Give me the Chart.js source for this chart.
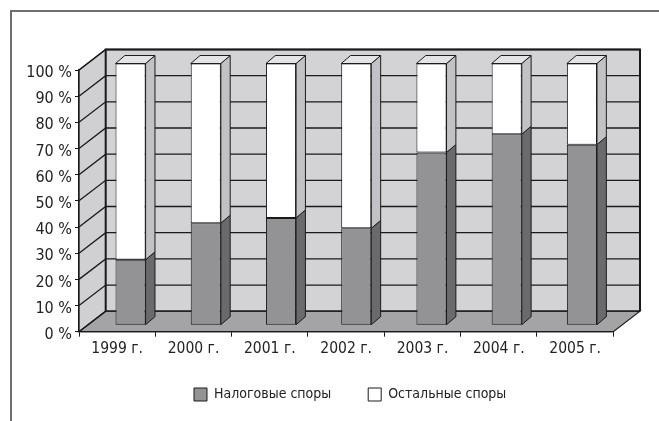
<!DOCTYPE html>
<html>
<head>
<meta charset="utf-8">
<script src="https://cdn.jsdelivr.net/npm/chart.js@4.4.1/dist/chart.umd.min.js"></script>
<style>
  html, body { margin: 0; padding: 0; background: #fff; }
  body { width: 659px; height: 421px; position: relative; overflow: hidden; }
  #frame { position: absolute; left: 10px; top: 10px; width: 700px; height: 500px;
           border-left: 2px solid #6e6e6e; border-top: 2px solid #6e6e6e; box-sizing: border-box; }
  #wrap { position: absolute; left: 0; top: 0; width: 659px; height: 421px; }
</style>
</head>
<body>
<div id="frame"></div>
<div id="wrap"><canvas id="c" width="659" height="421"></canvas></div>
<script>
const categories = ['1999 г.', '2000 г.', '2001 г.', '2002 г.', '2003 г.', '2004 г.', '2005 г.'];
const taxDisputes = [25, 39, 41, 37, 66, 73, 69];
const otherDisputes = [75, 61, 59, 63, 34, 27, 31];
const seriesNames = ['Налоговые споры', 'Остальные споры'];
const yTicks = [0, 10, 20, 30, 40, 50, 60, 70, 80, 90, 100];

const FONT = "'Liberation Sans Narrow', 'DejaVu Sans Condensed', 'Arial Narrow', sans-serif";
const DEPTH_X = 26.7, DEPTH_Y = -20.5;   // wall depth
const BAR_DX = 9.5, BAR_DY = -8;          // bar depth
const BAR_SHIFT_X = 10.1, BAR_SHIFT_Y = -6.5, BAR_SX = 0.9856;
const LEGEND_SHIFT_Y = -9.5, LEGEND_SHIFT_X = 4;

const walls = {
  id: 'walls',
  afterLayout(chart) {
    if (chart.legend) {
      chart.legend.top += LEGEND_SHIFT_Y;
      chart.legend.bottom += LEGEND_SHIFT_Y;
      chart.legend.left += LEGEND_SHIFT_X;
      chart.legend.right += LEGEND_SHIFT_X;
    }
  },
  beforeDraw(chart) {
    const ctx = chart.ctx, ya = chart.scales.y, xa = chart.scales.x;
    const L = xa.left, R = xa.right, T = ya.getPixelForValue(100), B = ya.getPixelForValue(0);
    ctx.save();
    ctx.lineJoin = 'miter';
    ctx.fillStyle = '#d3d3d5';
    ctx.fillRect(L + DEPTH_X, T + DEPTH_Y, R - L, B - T);
    ctx.beginPath();
    ctx.moveTo(L, T); ctx.lineTo(L + DEPTH_X, T + DEPTH_Y);
    ctx.lineTo(L + DEPTH_X, B + DEPTH_Y); ctx.lineTo(L, B); ctx.closePath();
    ctx.fillStyle = '#d0d0d2'; ctx.fill();
    ctx.beginPath();
    ctx.moveTo(L, B); ctx.lineTo(R, B); ctx.lineTo(R + DEPTH_X, B + DEPTH_Y);
    ctx.lineTo(L + DEPTH_X, B + DEPTH_Y); ctx.closePath();
    ctx.fillStyle = '#a4a4a6'; ctx.fill();
    ctx.strokeStyle = '#1a1a1a'; ctx.lineWidth = 1.2; ctx.stroke();
    ctx.lineWidth = 1.3;
    yTicks.forEach(v => {
      const yf = ya.getPixelForValue(v);
      ctx.beginPath();
      ctx.moveTo(L, yf); ctx.lineTo(L + DEPTH_X, yf + DEPTH_Y);
      ctx.lineTo(R + DEPTH_X, yf + DEPTH_Y);
      ctx.stroke();
    });
    ctx.lineWidth = 2;
    ctx.beginPath();
    ctx.moveTo(L + DEPTH_X, B + DEPTH_Y); ctx.lineTo(L + DEPTH_X, T + DEPTH_Y);
    ctx.lineTo(R + DEPTH_X, T + DEPTH_Y); ctx.lineTo(R + DEPTH_X, B + DEPTH_Y);
    ctx.stroke();
    ctx.lineWidth = 1.2;
    ctx.beginPath();
    ctx.moveTo(L, B); ctx.lineTo(L, T); ctx.lineTo(L + DEPTH_X, T + DEPTH_Y);
    ctx.stroke();
    ctx.restore();
  },
  beforeDatasetsDraw(chart) {
    const ctx = chart.ctx, xa = chart.scales.x;
    const pivot = xa.getPixelForValue(3);
    ctx.save();
    ctx.translate(pivot + BAR_SHIFT_X, BAR_SHIFT_Y);
    ctx.scale(BAR_SX, 1);
    ctx.translate(-pivot, 0);
  },
  afterDatasetsDraw(chart) {
    const ctx = chart.ctx;
    const sideColors = ['#6a6a6c', '#c2c2c4'];
    ctx.lineWidth = 1;
    ctx.strokeStyle = '#1a1a1a';
    [0, 1].forEach(di => {
      const meta = chart.getDatasetMeta(di);
      meta.data.forEach(bar => {
        const p = bar.getProps(['x', 'y', 'base', 'width']);
        const l = p.x - p.width / 2, r = p.x + p.width / 2;
        ctx.beginPath();
        ctx.moveTo(r, p.y); ctx.lineTo(r + BAR_DX, p.y + BAR_DY);
        ctx.lineTo(r + BAR_DX, p.base + BAR_DY); ctx.lineTo(r, p.base); ctx.closePath();
        ctx.fillStyle = sideColors[di]; ctx.fill(); ctx.stroke();
        if (di === 1) {
          ctx.beginPath();
          ctx.moveTo(l, p.y); ctx.lineTo(l + BAR_DX, p.y + BAR_DY);
          ctx.lineTo(r + BAR_DX, p.y + BAR_DY); ctx.lineTo(r, p.y); ctx.closePath();
          ctx.fillStyle = '#e4e4e6'; ctx.fill(); ctx.stroke();
        }
      });
    });
    ctx.restore();
  }
};

new Chart(document.getElementById('c'), {
  type: 'bar',
  data: {
    labels: categories,
    datasets: [
      { label: seriesNames[0], data: taxDisputes, backgroundColor: '#939395',
        borderColor: '#1a1a1a', borderWidth: 1, borderSkipped: false, clip: false },
      { label: seriesNames[1], data: otherDisputes, backgroundColor: '#ffffff',
        borderColor: '#1a1a1a', borderWidth: 1, borderSkipped: false, clip: false }
    ]
  },
  options: {
    responsive: false,
    animation: false,
    devicePixelRatio: 1,
    categoryPercentage: 1,
    barPercentage: 0.40,
    layout: { padding: { left: 0, right: 45.7, top: 70, bottom: 0 } },
    plugins: {
      tooltip: { enabled: false },
      legend: {
        position: 'bottom',
        fullSize: false,
        labels: {
          color: '#222', boxWidth: 13, boxHeight: 13, padding: 37,
          font: { family: FONT, size: 14 }
        }
      }
    },
    scales: {
      x: {
        stacked: true,
        afterFit(s) { s.height = 28.3; },
        grid: { display: true, drawOnChartArea: false, tickLength: 5, color: '#1a1a1a', offset: true },
        border: { display: true, color: '#1a1a1a', width: 1.2 },
        ticks: { color: '#222', padding: 3, font: { family: FONT, size: 15.5 }, maxRotation: 0 }
      },
      y: {
        stacked: true,
        min: 0, max: 100,
        afterFit(s) { s.width = 79; },
        afterBuildTicks(s) { s.ticks = yTicks.map(v => ({ value: v })); },
        grid: { display: true, drawOnChartArea: false, tickLength: 4, color: '#1a1a1a' },
        border: { display: true, color: '#1a1a1a', width: 1.2 },
        ticks: { color: '#222', padding: 3, labelOffset: 3, font: { family: FONT, size: 16 },
                 callback: v => v + ' %' }
      }
    }
  },
  plugins: [walls]
});
</script>
</body>
</html>
